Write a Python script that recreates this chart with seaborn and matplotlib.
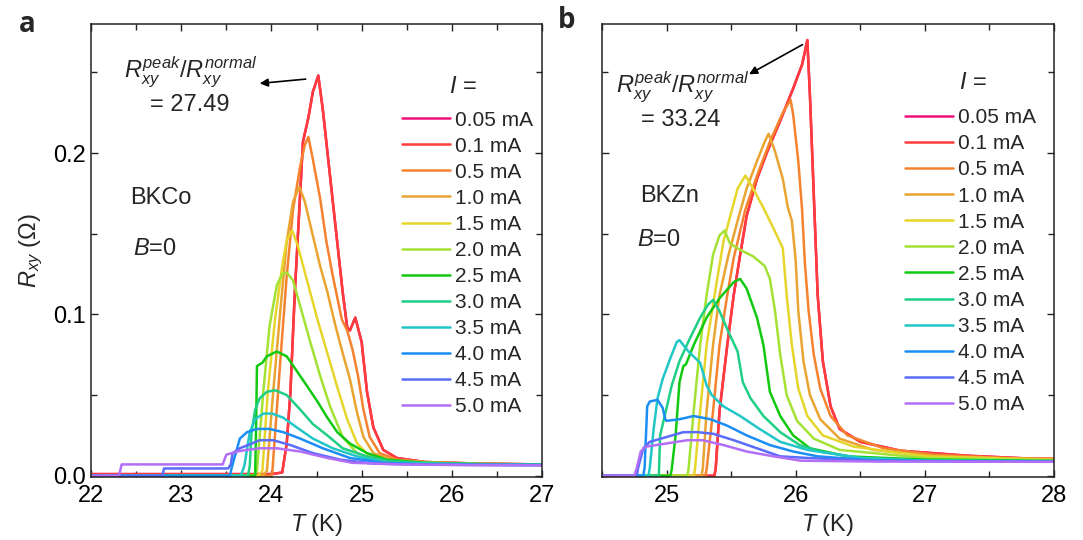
import matplotlib
matplotlib.use("Agg")
import matplotlib.pyplot as plt
from matplotlib.ticker import MultipleLocator, FormatStrFormatter
import numpy as np
import pandas as pd
import seaborn as sns

# legend labels and line colours (same for both panels)
currents = ["0.05 mA", "0.1 mA", "0.5 mA", "1.0 mA", "1.5 mA", "2.0 mA",
            "2.5 mA", "3.0 mA", "3.5 mA", "4.0 mA", "4.5 mA", "5.0 mA"]
colors = ["#F0107A", "#FF3B3B", "#F5822E", "#E9A431", "#E6D62C", "#A3E235",
          "#12C912", "#1FCF85", "#21C6C6", "#1B8EF5", "#5A6CFA", "#B26EF7"]

# ---- panel a: BKCo, T (K) / Rxy (Ohm) ----
co_T_005 = [22.0, 23.0, 24.0, 24.12, 24.17, 24.21, 24.26, 24.35, 24.41, 24.46, 24.52, 24.57, 24.63,
            24.71, 24.79, 24.84, 24.87, 24.93, 25.0, 25.06, 25.13, 25.24, 25.39, 25.7, 26.3, 27.0]
co_R_005 = [0.001, 0.001, 0.001, 0.002, 0.02, 0.051, 0.114, 0.207, 0.222, 0.238, 0.248, 0.227, 0.196,
            0.155, 0.114, 0.092, 0.090, 0.098, 0.083, 0.052, 0.030, 0.016, 0.011, 0.0085, 0.0075, 0.007]
co_T_01 = [22.0, 23.0, 24.0, 24.12, 24.17, 24.21, 24.26, 24.35, 24.41, 24.46, 24.52, 24.57, 24.63,
           24.71, 24.79, 24.84, 24.87, 24.93, 25.0, 25.06, 25.13, 25.24, 25.39, 25.7, 26.3, 27.0]
co_R_01 = [0.001, 0.001, 0.001, 0.002, 0.02, 0.051, 0.114, 0.207, 0.222, 0.238, 0.248, 0.227, 0.196,
           0.155, 0.114, 0.092, 0.090, 0.098, 0.083, 0.052, 0.030, 0.016, 0.011, 0.0085, 0.0075, 0.007]
co_T_05 = [22.0, 24.0, 24.01, 24.10, 24.17, 24.24, 24.32, 24.37, 24.41, 24.46, 24.54, 24.61, 24.68,
           24.78, 24.84, 24.90, 24.96, 25.02, 25.09, 25.20, 25.39, 25.7, 26.3, 27.0]
co_R_05 = [0.0, 0.0, 0.002, 0.072, 0.124, 0.165, 0.192, 0.205, 0.210, 0.196, 0.172, 0.145, 0.124,
           0.097, 0.090, 0.078, 0.062, 0.041, 0.024, 0.014, 0.010, 0.0085, 0.0075, 0.007]
co_T_10 = [22.0, 23.9, 23.95, 24.02, 24.10, 24.17, 24.24, 24.31, 24.37, 24.45, 24.54, 24.62, 24.71,
           24.79, 24.87, 24.95, 25.02, 25.13, 25.31, 25.7, 26.3, 27.0]
co_R_10 = [0.0, 0.0, 0.003, 0.052, 0.103, 0.145, 0.170, 0.179, 0.170, 0.151, 0.130, 0.114, 0.093,
           0.076, 0.060, 0.039, 0.024, 0.014, 0.010, 0.0083, 0.0073, 0.007]
co_T_15 = [22.0, 23.85, 23.90, 23.96, 24.04, 24.12, 24.17, 24.23, 24.29, 24.39, 24.51, 24.62, 24.73,
           24.84, 24.95, 25.09, 25.31, 25.7, 26.3, 27.0]
co_R_15 = [0.0, 0.0, 0.003, 0.052, 0.097, 0.130, 0.146, 0.152, 0.143, 0.122, 0.097, 0.076, 0.055,
           0.035, 0.020, 0.012, 0.009, 0.008, 0.0072, 0.007]
co_T_20 = [22.0, 23.80, 23.84, 23.91, 23.98, 24.06, 24.12, 24.17, 24.24, 24.32, 24.43, 24.54, 24.65,
           24.79, 24.95, 25.17, 25.7, 26.3, 27.0]
co_R_20 = [0.0, 0.0, 0.003, 0.052, 0.093, 0.118, 0.125, 0.126, 0.121, 0.105, 0.083, 0.062, 0.043,
           0.024, 0.014, 0.009, 0.008, 0.0072, 0.007]
co_T_25 = [22.0, 23.82, 23.83, 23.84, 23.90, 23.95, 24.06, 24.17, 24.28, 24.39, 24.51, 24.62, 24.73,
           24.87, 25.06, 25.28, 25.7, 26.3, 27.0]
co_R_25 = [0.0, 0.0, 0.03, 0.068, 0.070, 0.074, 0.077, 0.074, 0.065, 0.056, 0.046, 0.036, 0.027,
           0.020, 0.014, 0.010, 0.008, 0.0072, 0.007]
co_T_30 = [22.0, 23.74, 23.76, 23.78, 23.82, 23.87, 23.95, 24.04, 24.17, 24.32, 24.46, 24.62, 24.79,
           25.06, 25.31, 25.7, 26.3, 27.0]
co_R_30 = [0.0, 0.0, 0.006, 0.027, 0.041, 0.048, 0.052, 0.053, 0.050, 0.041, 0.032, 0.025, 0.017,
           0.012, 0.009, 0.008, 0.0072, 0.0068]
co_T_35 = [22.0, 23.66, 23.70, 23.76, 23.82, 23.91, 24.01, 24.13, 24.28, 24.46, 24.68, 24.95, 25.28,
           25.7, 26.3, 27.0]
co_R_35 = [0.0, 0.0, 0.006, 0.027, 0.035, 0.0385, 0.0385, 0.036, 0.030, 0.023, 0.017, 0.012, 0.008,
           0.0075, 0.007, 0.0068]
co_T_40 = [22.0, 23.54, 23.56, 23.61, 23.65, 23.73, 23.84, 23.98, 24.13, 24.32, 24.57, 24.87, 25.24,
           25.7, 26.3, 27.0]
co_R_40 = [0.0, 0.0, 0.005, 0.015, 0.023, 0.027, 0.029, 0.029, 0.027, 0.023, 0.017, 0.011, 0.008,
           0.007, 0.0068, 0.0066]
co_T_45 = [22.0, 22.79, 22.81, 23.52, 23.55, 23.57, 23.65, 23.74, 23.87, 24.02, 24.21, 24.46, 24.76,
           25.13, 25.7, 26.3, 27.0]
co_R_45 = [0.0, 0.0, 0.0045, 0.0045, 0.007, 0.014, 0.017, 0.019, 0.022, 0.022, 0.019, 0.014, 0.010,
           0.0075, 0.0068, 0.0066, 0.0065]
co_T_50 = [22.0, 22.31, 22.34, 23.46, 23.50, 23.62, 23.73, 23.87, 24.06, 24.32, 24.62, 24.90, 25.43,
           26.3, 27.0]
co_R_50 = [0.0, 0.0, 0.007, 0.007, 0.013, 0.015, 0.016, 0.017, 0.017, 0.015, 0.011, 0.008, 0.007,
           0.0066, 0.0065]

# ---- panel b: BKZn ----
zn_T_005 = [24.5, 25.37, 25.38, 25.41, 25.47, 25.52, 25.57, 25.62, 25.70, 25.78, 25.88, 25.98, 26.05,
            26.09, 26.11, 26.14, 26.17, 26.21, 26.27, 26.34, 26.50, 26.81, 27.33, 27.82, 28.0]
zn_R_005 = [0.0, 0.0, 0.004, 0.040, 0.081, 0.112, 0.137, 0.161, 0.184, 0.201, 0.220, 0.240, 0.255,
            0.270, 0.236, 0.174, 0.112, 0.071, 0.043, 0.029, 0.021, 0.0155, 0.0124, 0.0106, 0.0104]
zn_T_01 = [24.5, 25.37, 25.38, 25.41, 25.47, 25.52, 25.57, 25.62, 25.70, 25.78, 25.88, 25.98, 26.05,
           26.09, 26.11, 26.14, 26.17, 26.21, 26.27, 26.34, 26.50, 26.81, 27.33, 27.82, 28.0]
zn_R_01 = [0.0, 0.0, 0.004, 0.040, 0.081, 0.112, 0.137, 0.161, 0.184, 0.201, 0.220, 0.240, 0.255,
           0.270, 0.236, 0.174, 0.112, 0.071, 0.043, 0.029, 0.021, 0.0155, 0.0124, 0.0106, 0.0104]
zn_T_05 = [24.5, 25.30, 25.31, 25.36, 25.41, 25.47, 25.52, 25.61, 25.70, 25.80, 25.90, 25.96, 25.98,
           26.02, 26.05, 26.07, 26.10, 26.14, 26.19, 26.27, 26.40, 26.68, 27.07, 27.6, 28.0]
zn_R_05 = [0.0, 0.0, 0.004, 0.040, 0.081, 0.112, 0.135, 0.165, 0.186, 0.207, 0.225, 0.233, 0.224,
           0.195, 0.164, 0.133, 0.102, 0.075, 0.054, 0.037, 0.025, 0.017, 0.013, 0.011, 0.0105]
zn_T_10 = [24.5, 25.27, 25.28, 25.31, 25.36, 25.41, 25.48, 25.55, 25.62, 25.70, 25.76, 25.79, 25.84,
           25.90, 25.94, 25.97, 26.00, 26.02, 26.06, 26.11, 26.19, 26.34, 26.60, 27.1, 28.0]
zn_R_10 = [0.0, 0.0, 0.004, 0.040, 0.081, 0.112, 0.137, 0.158, 0.178, 0.195, 0.207, 0.212, 0.201,
           0.184, 0.166, 0.158, 0.133, 0.102, 0.071, 0.050, 0.035, 0.023, 0.016, 0.012, 0.010]
zn_T_15 = [24.5, 25.21, 25.22, 25.26, 25.31, 25.38, 25.44, 25.51, 25.55, 25.61, 25.67, 25.75, 25.83,
           25.90, 25.93, 25.97, 26.02, 26.09, 26.21, 26.45, 27.0, 28.0]
zn_R_15 = [0.0, 0.0, 0.004, 0.040, 0.081, 0.116, 0.145, 0.166, 0.178, 0.186, 0.178, 0.166, 0.153,
           0.141, 0.112, 0.081, 0.054, 0.037, 0.025, 0.018, 0.012, 0.0098]
zn_T_20 = [24.5, 25.16, 25.17, 25.21, 25.26, 25.31, 25.36, 25.41, 25.45, 25.49, 25.57, 25.67, 25.76,
           25.80, 25.84, 25.88, 25.93, 26.01, 26.14, 26.34, 27.0, 28.0]
zn_R_20 = [0.0, 0.0, 0.004, 0.040, 0.081, 0.112, 0.137, 0.149, 0.152, 0.144, 0.140, 0.136, 0.130,
           0.122, 0.102, 0.075, 0.050, 0.034, 0.023, 0.016, 0.011, 0.0095]
zn_T_25 = [24.5, 25.03, 25.04, 25.07, 25.10, 25.13, 25.15, 25.21, 25.31, 25.41, 25.52, 25.57, 25.62,
           25.70, 25.75, 25.80, 25.88, 25.98, 26.11, 26.4, 27.0, 28.0]
zn_R_25 = [0.0, 0.0, 0.004, 0.025, 0.058, 0.068, 0.069, 0.081, 0.098, 0.110, 0.120, 0.122, 0.116,
           0.098, 0.081, 0.052, 0.037, 0.025, 0.017, 0.012, 0.010, 0.0092]
zn_T_30 = [24.5, 24.94, 24.95, 25.00, 25.04, 25.10, 25.18, 25.26, 25.32, 25.36, 25.41, 25.48, 25.55,
           25.59, 25.65, 25.75, 25.88, 26.03, 26.19, 26.5, 27.0, 28.0]
zn_R_30 = [0.0, 0.0, 0.025, 0.042, 0.056, 0.071, 0.085, 0.098, 0.106, 0.109, 0.102, 0.089, 0.077,
           0.058, 0.048, 0.037, 0.027, 0.019, 0.015, 0.011, 0.0095, 0.009]
zn_T_35 = [24.5, 24.86, 24.87, 24.90, 24.93, 24.97, 25.03, 25.08, 25.10, 25.17, 25.26, 25.31, 25.35,
           25.44, 25.57, 25.72, 25.88, 26.09, 26.5, 27.0, 28.0]
zn_R_35 = [0.0, 0.0, 0.005, 0.029, 0.048, 0.060, 0.073, 0.083, 0.084, 0.077, 0.070, 0.056, 0.050,
           0.043, 0.037, 0.029, 0.021, 0.016, 0.011, 0.0092, 0.009]
zn_T_40 = [24.5, 24.82, 24.83, 24.85, 24.87, 24.93, 24.97, 24.99, 25.00, 25.10, 25.21, 25.34, 25.47,
           25.62, 25.80, 25.98, 26.17, 26.6, 27.4, 28.0]
zn_R_40 = [0.0, 0.0, 0.005, 0.043, 0.046, 0.047, 0.042, 0.035, 0.034, 0.035, 0.037, 0.035, 0.031,
           0.025, 0.019, 0.015, 0.012, 0.0095, 0.0088, 0.0087]
zn_T_45 = [24.5, 24.77, 24.78, 24.82, 24.87, 25.00, 25.13, 25.24, 25.36, 25.52, 25.70, 25.88, 26.09,
           26.6, 27.4, 28.0]
zn_R_45 = [0.0, 0.0, 0.005, 0.017, 0.021, 0.024, 0.027, 0.027, 0.026, 0.022, 0.017, 0.012, 0.011,
           0.0092, 0.0088, 0.0087]
zn_T_50 = [24.5, 24.75, 24.77, 24.80, 24.84, 25.00, 25.16, 25.28, 25.44, 25.62, 25.83, 26.04, 26.6,
           27.4, 28.0]
zn_R_50 = [0.0, 0.0, 0.005, 0.015, 0.018, 0.020, 0.022, 0.022, 0.019, 0.015, 0.012, 0.0093, 0.0088,
           0.0087, 0.0086]

co_T = [co_T_005, co_T_01, co_T_05, co_T_10, co_T_15, co_T_20, co_T_25, co_T_30, co_T_35, co_T_40, co_T_45, co_T_50]
co_R = [co_R_005, co_R_01, co_R_05, co_R_10, co_R_15, co_R_20, co_R_25, co_R_30, co_R_35, co_R_40, co_R_45, co_R_50]
zn_T = [zn_T_005, zn_T_01, zn_T_05, zn_T_10, zn_T_15, zn_T_20, zn_T_25, zn_T_30, zn_T_35, zn_T_40, zn_T_45, zn_T_50]
zn_R = [zn_R_005, zn_R_01, zn_R_05, zn_R_10, zn_R_15, zn_R_20, zn_R_25, zn_R_30, zn_R_35, zn_R_40, zn_R_45, zn_R_50]


def build_frame(t_lists, r_lists):
    frames = [pd.DataFrame({"T": t, "R": r, "I": lab})
              for lab, t, r in zip(currents, t_lists, r_lists)]
    return pd.concat(frames, ignore_index=True)


sns.set_theme(style="ticks")
plt.rcParams["font.family"] = ["Liberation Sans", "DejaVu Sans"]
plt.rcParams["mathtext.fontset"] = "custom"
plt.rcParams["mathtext.rm"] = "Liberation Sans"
plt.rcParams["mathtext.it"] = "Liberation Sans:italic"
plt.rcParams["mathtext.bf"] = "Liberation Sans:bold"

fig = plt.figure(figsize=(10.83, 5.4), dpi=100)
ax_a = fig.add_axes([91 / 1083, 63 / 540, 451 / 1083, 453 / 540])
ax_b = fig.add_axes([602 / 1083, 63 / 540, 452 / 1083, 453 / 540])

panels = [
    (ax_a, build_frame(co_T, co_R), (22, 27), (0.666, 0.832), (0.825, 0.861)),
    (ax_b, build_frame(zn_T, zn_R), (24.5, 28), (0.648, 0.837), (0.821, 0.869)),
]

for ax, df, xlim, leg_pos, title_pos in panels:
    sns.lineplot(data=df, x="T", y="R", hue="I", hue_order=currents, palette=colors,
                 sort=False, estimator=None, linewidth=1.8, ax=ax)
    ax.set_xlim(*xlim)
    ax.set_ylim(-0.0008, 0.28)
    ax.xaxis.set_major_locator(MultipleLocator(1))
    ax.xaxis.set_minor_locator(MultipleLocator(0.5))
    ax.yaxis.set_major_locator(MultipleLocator(0.1))
    ax.yaxis.set_minor_locator(MultipleLocator(0.05))
    ax.yaxis.set_major_formatter(FormatStrFormatter("%.1f"))
    ax.tick_params(which="both", direction="in", top=True, right=True,
                   width=1.0, colors="#222222", labelcolor="black", labelsize=17)
    ax.tick_params(which="major", length=5)
    ax.tick_params(which="minor", length=4)
    ax.tick_params(axis="x", pad=6)
    for sp in ax.spines.values():
        sp.set_linewidth(1.1)
        sp.set_color("#222222")
    ax.set_xlabel("$T$ (K)", fontsize=17, labelpad=3)
    sns.move_legend(ax, "upper left", frameon=False, title="",
                    fontsize=15, handlelength=2.3, handletextpad=0.25,
                    labelspacing=0.34, borderpad=0, bbox_to_anchor=leg_pos)
    ax.text(title_pos[0], title_pos[1], "$I$ =", transform=ax.transAxes,
            fontsize=17, ha="center", va="center")

ax_a.set_ylabel(r"$R_{xy}$ (Ω)", fontsize=17, labelpad=6)
ax_b.set_ylabel("")
ax_b.tick_params(labelleft=False)

# text annotations
ratio_txt = r"$R_{xy}^{peak}/R_{xy}^{normal}$"
ax_a.text(0.22, 0.895, ratio_txt, transform=ax_a.transAxes, fontsize=17, ha="center", va="center")
ax_a.text(0.22, 0.822, "= 27.49", transform=ax_a.transAxes, fontsize=17, ha="center", va="center")
ax_a.text(0.086, 0.616, "BKCo", transform=ax_a.transAxes, fontsize=17, va="center")
ax_a.text(0.093, 0.503, "$B$=0", transform=ax_a.transAxes, fontsize=17, va="center")
ax_a.annotate("", xy=(23.84, 0.243), xytext=(24.41, 0.246),
              arrowprops=dict(arrowstyle="-|>", color="black", lw=1.2, mutation_scale=12))

ax_b.text(0.179, 0.862, ratio_txt, transform=ax_b.transAxes, fontsize=17, ha="center", va="center")
ax_b.text(0.175, 0.788, "= 33.24", transform=ax_b.transAxes, fontsize=17, ha="center", va="center")
ax_b.text(0.084, 0.620, "BKZn", transform=ax_b.transAxes, fontsize=17, va="center")
ax_b.text(0.077, 0.523, "$B$=0", transform=ax_b.transAxes, fontsize=17, va="center")
ax_b.annotate("", xy=(25.62, 0.248), xytext=(26.07, 0.268),
              arrowprops=dict(arrowstyle="-|>", color="black", lw=1.2, mutation_scale=12))

fig.text(27 / 1083, 1 - 25 / 540, "a", fontsize=20, fontweight="bold",
         family=["Open Sans", "DejaVu Sans"], ha="center", va="center")
fig.text(567 / 1083, 1 - 20 / 540, "b", fontsize=20, fontweight="bold",
         family=["Open Sans", "DejaVu Sans"], ha="center", va="center")

fig.savefig("out.png", dpi=100)
